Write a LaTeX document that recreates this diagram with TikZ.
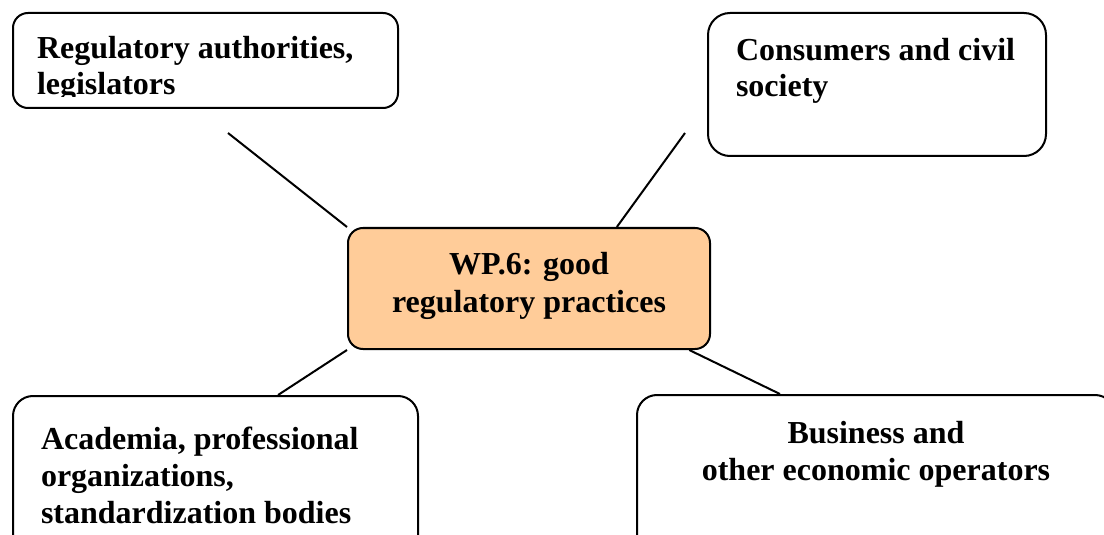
\documentclass[tikz,border=0pt]{standalone}
\usepackage{fontspec}
\setmainfont{Liberation Serif}
\usepackage{xcolor}
\usepackage{tikz}
\usetikzlibrary{calc}
\definecolor{peach}{RGB}{255,204,153}

\begin{document}
\begin{tikzpicture}[x=0.5pt, y=-0.5pt, line width=1pt]
 	  \tikzstyle{every node}=[font=\fontsize{16}{18}\selectfont\bfseries, text=black]
 	  \tikzstyle{box}=[rectangle, draw=black, fill=white, inner sep=0pt, rounded corners=7.5pt]
 	  \tikzstyle{txt}=[inner sep=0pt]
\useasboundingbox (0,0) rectangle (1104,535);
\clip (0,0) rectangle (1104,535);
    % the working party in the middle
    \node[box, fill=peach, minimum width=181pt, minimum height=60.5pt] (wp) at (529,288.5) {};
    \node[txt, anchor=north, align=center, font=\fontsize{16}{19}\selectfont\bfseries] (wptext) at (529,251.4) {WP.6: good\\regulatory practices};
    % the four groups round it
    \node[box, minimum width=192.5pt, minimum height=47.5pt] (reg) at (205.5,60.5) {};
    \node[box, rounded corners=11pt, minimum width=169pt, minimum height=71.5pt] (cons) at (877,84.5) {};
    \node[box, rounded corners=10pt, minimum width=202.5pt, minimum height=82pt] (acad) at (215.5,478) {};
    \node[box, rounded corners=10pt, minimum width=239pt, minimum height=82.5pt] (biz) at (876,477.5) {};
\begin{scope}
    \clip (reg.north west) rectangle ($(reg.south east)+(0,-12)$);
    \node[txt, anchor=north west, align=left] (regtext) at (36,35.4) {Regulatory authorities,\\legislators};
\end{scope}
    \node[txt, anchor=north west, align=left] (constext) at (735,37.4) {Consumers and civil\\society};
    \node[txt, anchor=north west, align=left, font=\fontsize{16}{18.5}\selectfont\bfseries] (acadtext) at (40,426) {Academia, professional\\organizations,\\standardization bodies};
    \node[txt, anchor=north, align=center, font=\fontsize{16}{18.5}\selectfont\bfseries] (biztext) at (876,420) {Business and\\other economic operators};
    % connectors
    \coordinate (regend) at (228,133);
    \coordinate (consend) at (685,133);
\foreach \from/\to in {wp.north west/regend, wp.35.8/consend, wp.south west/acad.53.1, wp.-21.1/biz.139.3}{
    \draw (\from) -- (\to);
      }
   \end{tikzpicture}
\end{document}
